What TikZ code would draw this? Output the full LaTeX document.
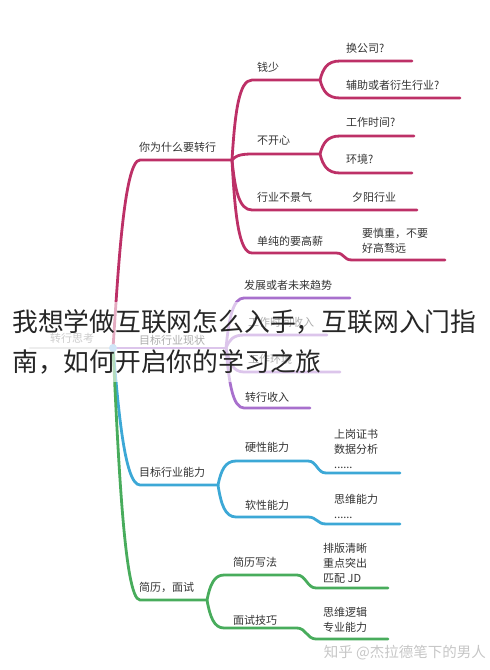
\documentclass[tikz,border=0pt]{standalone}
\usepackage{fontspec}
\usepackage{xcolor}
\usepackage{tikz}
\usetikzlibrary{calc}
\newfontfamily\cjkfont{Noto Sans CJK SC}
\definecolor{whyColor}{RGB}{189,48,103}
\definecolor{nowColor}{RGB}{168,112,205}
\definecolor{skillColor}{RGB}{60,168,214}
\definecolor{jobColor}{RGB}{72,172,92}
\definecolor{dotColor}{RGB}{140,190,235}
\tikzset{
    branch/.style={line width=2.8pt, line cap=round, line join=round},
    trunk/.style={to path={.. controls ($(\tikztostart)!0.4!(\tikztostart|-\tikztotarget)+(5,0)$)
        and ($(\tikztostart|-\tikztotarget)+(11,0)$) .. (\tikztotarget)}},
    fork/.style={to path={.. controls ($(\tikztostart)!0.6!(\tikztostart|-\tikztotarget)+(3,0)$)
        and ($(\tikztostart|-\tikztotarget)+(7,0)$) .. (\tikztotarget)}},
    kink/.style={to path={.. controls ($(\tikztostart)+(9,0)$) and ($(\tikztotarget)+(-9,0)$) .. (\tikztotarget)}},
    txt/.style={font=\cjkfont\fontsize{11}{15}\selectfont, text=black!80, anchor=west, inner sep=0pt},
    title/.style={font=\cjkfont\fontsize{25.8}{30}\selectfont, text=black!85, anchor=west, inner sep=0pt},
}

\begin{document}
\begin{tikzpicture}[x=1pt, y=-1pt]
    \useasboundingbox (0,0) rectangle (490,670);

    % hubs
    \coordinate (root) at (113,348);
    \coordinate (think) at (30,348);
    \coordinate (why) at (140,160);
    \coordinate (whyfork) at (232,160);
    \coordinate (now) at (226,348);
    \coordinate (skill) at (140,485);
    \coordinate (skillfork) at (218,485);
    \coordinate (cv) at (140,600);
    \coordinate (cvfork) at (207,600);

    \draw[branch, gray!35] (think) -- (root);
    \draw[branch, whyColor] (root) to[trunk] (why) -- (whyfork);
    \draw[branch, nowColor] (root) -- (now);
    \draw[branch, skillColor] (root) to[trunk] (skill) -- (skillfork);
    \draw[branch, jobColor] (root) to[trunk] (cv) -- (cvfork);

    % why change
    \coordinate (money) at (252,80);      \coordinate (moneyfork) at (320,80);
    \coordinate (unhappy) at (252,154);   \coordinate (unhappyfork) at (320,154);
    \coordinate (slump) at (252,210);     \coordinate (slumpend) at (417,210);
    \coordinate (salary) at (252,253);    \coordinate (salarybend) at (336,253);
    \coordinate (salarylow) at (352,260); \coordinate (salaryend) at (445,260);
    \draw[branch, whyColor] (whyfork) to[fork] (money) -- (moneyfork);
    \draw[branch, whyColor] (whyfork) to[fork] (unhappy) -- (unhappyfork);
    \draw[branch, whyColor] (whyfork) to[fork] (slump) -- (slumpend);
    \draw[branch, whyColor] (whyfork) to[fork] (salary) -- (salarybend) to[kink] (salarylow) -- (salaryend);

    \coordinate (switch) at (340,61);   \coordinate (switchend) at (412,61);
    \coordinate (side) at (340,98);     \coordinate (sideend) at (460,98);
    \coordinate (hours) at (340,136);   \coordinate (hoursend) at (414,136);
    \coordinate (env) at (340,173);     \coordinate (envend) at (412,173);
    \draw[branch, whyColor] (moneyfork) to[fork] (switch) -- (switchend);
    \draw[branch, whyColor] (moneyfork) to[fork] (side) -- (sideend);
    \draw[branch, whyColor] (unhappyfork) to[fork] (hours) -- (hoursend);
    \draw[branch, whyColor] (unhappyfork) to[fork] (env) -- (envend);

    % industry now
    \foreach \nm/\y/\xe in {trend/298/350, pay/335/327, place/372/340, income/408/310} {
        \coordinate (\nm) at (244,\y);
        \coordinate (\nm end) at (\xe,\y);
        \draw[branch, nowColor] (now) to[fork] (\nm) -- (\nm end);
    }

    % skills
    \foreach \nm/\y/\yl in {hard/461/473, soft/517/524} {
        \coordinate (\nm) at (236,\y);
        \coordinate (\nm bend) at (308,\y);
        \coordinate (\nm low) at (326,\yl);
        \coordinate (\nm end) at (400,\yl);
        \draw[branch, skillColor] (skillfork) to[fork] (\nm) -- (\nm bend) to[kink] (\nm low) -- (\nm end);
    }

    % resume and interview
    \foreach \nm/\y/\yl in {resume/575/588, interview/628/639} {
        \coordinate (\nm) at (224,\y);
        \coordinate (\nm bend) at (297,\y);
        \coordinate (\nm low) at (316,\yl);
        \coordinate (\nm end) at (388,\yl);
        \draw[branch, jobColor] (cvfork) to[fork] (\nm) -- (\nm bend) to[kink] (\nm low) -- (\nm end);
    }

    \fill[dotColor] (root) circle (4);

    % labels
    \node[txt] (lwhy) at (139,147) {你为什么要转行};
    \node[txt] (lmoney) at (257,67) {钱少};
    \node[txt] (lswitch) at (346,48) {换公司?};
    \node[txt] (lside) at (346,85) {辅助或者衍生行业?};
    \node[txt] (lunhappy) at (257,141) {不开心};
    \node[txt] (lhours) at (346,122) {工作时间?};
    \node[txt] (lenv) at (346,159) {环境?};
    \node[txt] (lslump) at (257,197) {行业不景气};
    \node[txt] (lsunset) at (352,197) {夕阳行业};
    \node[txt] (lsalary) at (257,241) {单纯的要高薪};
    \node[txt, align=left] (lcareful) at (362,241) {要慎重，不要\\好高骛远};
    \node[txt, text=gray] (lthink) at (50,338) {转行思考};
    \node[txt] (lnow) at (139,340) {目标行业现状};
    \node[txt] (ltrend) at (244,285) {发展或者未来趋势};
    \node[txt] (lpay) at (248,322) {工作时间收入};
    \node[txt] (lplace) at (248,359) {工作环境};
    \node[txt] (lincome) at (245,397) {转行收入};
    \node[txt] (lskill) at (139,472) {目标行业能力};
    \node[txt] (lhard) at (245,447) {硬性能力};
    \node[txt, align=left] (lhardx) at (334,449) {上岗证书\\数据分析\\......};
    \node[txt] (lsoft) at (245,505) {软性能力};
    \node[txt, align=left] (lsoftx) at (334,506) {思维能力\\......};
    \node[txt] (lcv) at (139,587) {简历，面试};
    \node[txt] (lresume) at (233,562) {简历写法};
    \node[txt, align=left] (lresumex) at (323,563) {排版清晰\\重点突出\\匹配 JD};
    \node[txt] (linterview) at (233,620) {面试技巧};
    \node[txt, align=left] (linterviewx) at (323,620) {思维逻辑\\专业能力};

    % title over the map
    \fill[white, opacity=0.6] (0,302) rectangle (345,382);
    \node[title] (t1) at (12,322) {我想学做互联网怎么入手，互联网入门指};
    \node[title] (t2) at (12,362) {南，如何开启你的学习之旅};

    \node[font=\cjkfont\fontsize{14.5}{16}\selectfont, text=gray!45, anchor=east, inner sep=0pt]
        (mark) at (486,653) {知乎 @杰拉德笔下的男人};
\end{tikzpicture}
\end{document}
